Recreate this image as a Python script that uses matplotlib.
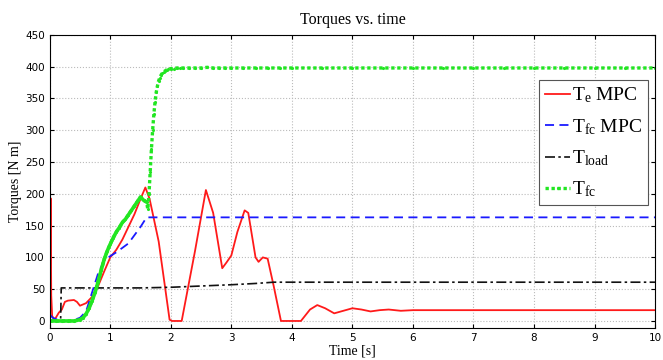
import matplotlib
matplotlib.use("Agg")
import matplotlib.pyplot as plt

plt.rcParams["mathtext.fontset"] = "custom"
plt.rcParams["mathtext.rm"] = "Liberation Serif"
plt.rcParams["mathtext.it"] = "Liberation Serif:italic"

# T_e MPC (red)
t_e = [0, 0.015, 0.025, 0.04, 0.07, 0.1, 0.15, 0.2, 0.25, 0.3, 0.4, 0.45, 0.5, 0.6, 0.7, 0.8,
       0.9, 1.0, 1.1, 1.2, 1.3, 1.4, 1.5, 1.58, 1.65, 1.8, 1.98, 2.02, 2.18, 2.4, 2.58,
       2.7, 2.85, 2.92, 3.0, 3.1, 3.22, 3.28, 3.4, 3.45, 3.52, 3.6, 3.7, 3.82, 4.15,
       4.3, 4.42, 4.55, 4.7, 4.85, 5.0, 5.15, 5.3, 5.45, 5.6, 5.8, 6.0, 7.0, 8.0, 10.0]
T_e = [0, 193, 40, 8, 3, 5, 13, 18, 30, 32, 33, 30, 24, 28, 38, 55,
       78, 100, 112, 128, 148, 168, 192, 210, 192, 125, 2, 0, 0, 110, 206,
       170, 83, 92, 103, 140, 174, 170, 100, 93, 100, 98, 55, 0, 0,
       18, 25, 20, 12, 16, 20, 18, 15, 17, 18, 16, 17, 17, 17, 17]

# T_fc MPC (blue dashed)
t_fcm = [0, 0.05, 0.1, 0.2, 0.35, 0.5, 0.6, 0.7, 0.8, 0.9, 1.0, 1.1, 1.2, 1.3, 1.4, 1.5, 1.6, 10.0]
T_fcm = [10, 5, 3, 0, 0, 5, 15, 45, 75, 95, 102, 108, 115, 122, 135, 148, 163, 163]

# T_load (black dash-dot)
t_load = [0, 0.18, 0.19, 1.5, 2.0, 2.5, 3.0, 3.4, 3.7, 10.0]
T_load = [0, 0, 52, 52, 53, 55, 57, 59, 61, 61]

# T_fc (green)
t_fc = [0, 0.1, 0.2, 0.3, 0.4, 0.5, 0.55, 0.6, 0.65, 0.7, 0.75, 0.8, 0.85, 0.9, 0.95, 1.0,
        1.05, 1.1, 1.15, 1.2, 1.25, 1.3, 1.35, 1.4, 1.45, 1.5, 1.55, 1.6,
        1.62, 1.64, 1.66, 1.68, 1.7, 1.72, 1.74, 1.76, 1.78, 1.8, 1.82, 1.84, 1.86,
        1.88, 1.9, 1.93, 1.96, 2.0, 2.05, 2.1, 2.15, 2.2, 2.3, 2.4, 2.5, 2.6, 2.7, 2.8,
        2.9, 3.0, 3.2, 3.4, 3.6, 3.8, 4.0, 4.5, 5.0, 5.5, 6.0, 6.5, 7.0, 7.5, 8.0, 8.5,
        9.0, 9.5, 10.0]
T_fc = [0, 0, 0, 0, 0, 2, 5, 11, 20, 32, 45, 62, 80, 97, 110, 121,
        131, 140, 147, 155, 160, 167, 174, 181, 188, 195, 190, 187,
        176, 200, 235, 270, 300, 325, 345, 360, 370, 378, 383, 387, 390,
        392, 393, 395, 396, 397, 397, 398, 398, 398, 398, 398, 398, 399, 398, 398,
        398, 398, 398, 398, 398, 398, 398, 398, 398, 398, 398, 398, 398, 398, 398, 398,
        398, 398, 398]

x_ticks = list(range(0, 11))
y_ticks = list(range(0, 451, 50))

serif = "Liberation Serif"

fig = plt.figure(figsize=(6.63, 3.6), dpi=100)
ax = fig.add_axes([0.075, 0.089, 0.913, 0.814])

ax.plot(t_e, T_e, color="#ff1a1a", lw=1.3, label=r"$\mathrm{T_e}$ MPC")
ax.plot(t_fcm, T_fcm, color="#1a1aff", lw=1.3, ls=(0, (5, 3)), label=r"$\mathrm{T_{fc}}$ MPC")
ax.plot(t_load, T_load, color="#111111", lw=1.2, ls=(0, (6, 2, 1.5, 2)), label=r"$\mathrm{T_{load}}$")
n_solid = t_fc.index(1.6) + 1
ax.plot(t_fc[:n_solid], T_fc[:n_solid], color="#22e622", lw=2.6, solid_capstyle="round")
ax.plot(t_fc, T_fc, color="#22e622", lw=2.4, ls=(0, (1, 0.8)), marker=".", ms=2.5,
        label=r"$\mathrm{T_{fc}}$")

ax.set_xlim(0, 10)
ax.set_ylim(-11, 450)
ax.set_xticks(x_ticks)
ax.set_yticks(y_ticks)
ax.tick_params(direction="in", top=True, right=True, labelsize=7.5, length=3)
ax.grid(True, color="#bbbbbb", ls=":", lw=0.8)

ax.set_title("Torques vs. time", fontfamily=serif, fontsize=11.5, pad=8)
ax.set_xlabel("Time [s]", fontfamily=serif, fontsize=10, labelpad=1)
ax.set_ylabel("Torques [N m]", fontfamily=serif, fontsize=10, labelpad=2)

leg = ax.legend(loc="upper right", bbox_to_anchor=(0.995, 0.86), borderaxespad=0.2,
                prop={"family": serif, "size": 14},
                handlelength=1.3, handletextpad=0.1, borderpad=0.3, labelspacing=0.6,
                fancybox=False, framealpha=1)
leg.get_frame().set_edgecolor("#555555")
leg.get_frame().set_linewidth(0.8)

fig.savefig("out.png", dpi=100)
